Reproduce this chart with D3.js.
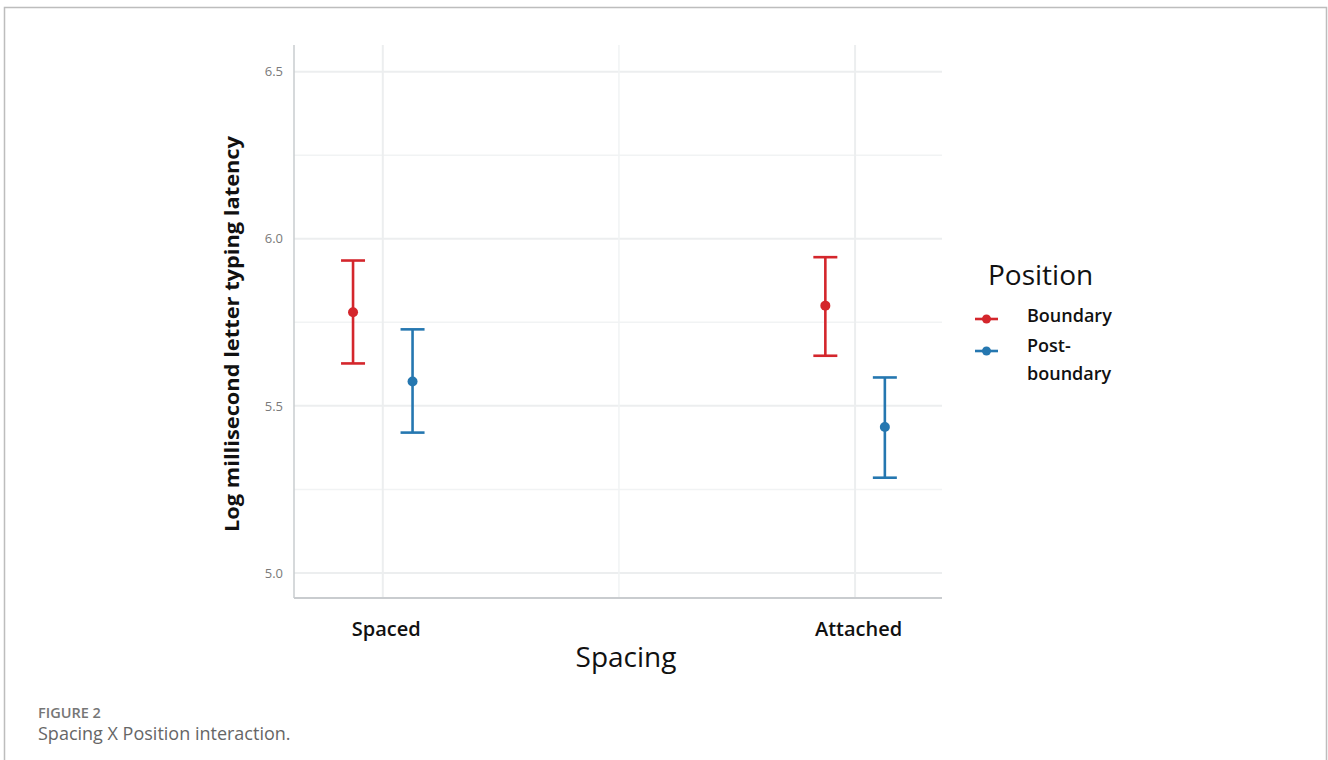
<!DOCTYPE html>
<html>
<head>
<meta charset="utf-8">
<script src="https://cdn.jsdelivr.net/npm/d3@7"></script>
<style>
  body { margin: 0; background: #fff; }
  svg text { font-family: "Open Sans", "Noto Sans", sans-serif; }
</style>
</head>
<body>
<script>
// data
const spacing = ['Spaced', 'Attached']
const positions = ['Boundary', 'Post-boundary']
const meanBoundary = [5.78, 5.80]
const upperBoundary = [5.935, 5.945]
const lowerBoundary = [5.627, 5.65]
const meanPost = [5.573, 5.437]
const upperPost = [5.729, 5.585]
const lowerPost = [5.42, 5.285]
const yTicks = [5.0, 5.5, 6.0, 6.5]
const yMinor = [5.25, 5.75, 6.25]
const colors = ['#d4262c', '#2577b0']

const rows = []
spacing.forEach((s, i) => {
    rows.push({ sp: s, i: i, pos: 0, mean: meanBoundary[i], hi: upperBoundary[i], lo: lowerBoundary[i] })
    rows.push({ sp: s, i: i, pos: 1, mean: meanPost[i], hi: upperPost[i], lo: lowerPost[i] })
})

const W = 1328, H = 760
const svg = d3.select('body').append('svg').attr('width', W).attr('height', H)

// page frame
svg.append('path')
   .attr('d', `M4.5,${H} V7.5 H1326.5 V${H}`)
   .attr('fill', 'none')
   .attr('stroke', '#bdbdbd')
   .attr('stroke-width', 1.5)

const pLeft = 294, pRight = 942, pTop = 45, pBottom = 598

const x = d3.scaleLinear().domain([0.812, 2.184]).range([pLeft, pRight])
const y = d3.scaleLinear().domain([4.925, 6.58]).range([pBottom, pTop])
const dodge = 0.063

const g = svg.append('g')

// grid
g.selectAll('.minor-y').data(yMinor).join('line')
  .attr('x1', pLeft).attr('x2', pRight)
  .attr('y1', d => y(d)).attr('y2', d => y(d))
  .attr('stroke', '#f1f3f4').attr('stroke-width', 1.5)
g.selectAll('.major-y').data(yTicks).join('line')
  .attr('x1', pLeft).attr('x2', pRight)
  .attr('y1', d => y(d)).attr('y2', d => y(d))
  .attr('stroke', '#eceeef').attr('stroke-width', 2)
g.append('line')
  .attr('x1', x(1.5)).attr('x2', x(1.5)).attr('y1', pTop).attr('y2', pBottom)
  .attr('stroke', '#f1f3f4').attr('stroke-width', 1.5)
g.selectAll('.major-x').data([1, 2]).join('line')
  .attr('x1', d => x(d)).attr('x2', d => x(d)).attr('y1', pTop).attr('y2', pBottom)
  .attr('stroke', '#eceeef').attr('stroke-width', 2)

// axes lines
g.append('line').attr('x1', pLeft).attr('x2', pLeft).attr('y1', pTop).attr('y2', pBottom)
  .attr('stroke', '#c9cccf').attr('stroke-width', 1.5)
g.append('line').attr('x1', pLeft).attr('x2', pRight).attr('y1', pBottom).attr('y2', pBottom)
  .attr('stroke', '#c9cccf').attr('stroke-width', 2)

// y tick labels
const yAxis = d3.axisLeft(y).tickValues(yTicks).tickFormat(d3.format('.1f')).tickSize(0).tickPadding(11)
g.append('g').attr('transform', `translate(${pLeft},0)`).call(yAxis)
  .call(a => a.select('.domain').remove())
  .selectAll('text')
  .style('font-family', '"Open Sans", sans-serif')
  .attr('font-size', 13).attr('fill', '#7a7a7a')

// x tick labels
const xAxis = d3.axisBottom(x).tickValues([1, 2]).tickFormat((d, i) => spacing[i]).tickSize(0).tickPadding(24)
g.append('g').attr('transform', `translate(0,${pBottom})`).call(xAxis)
  .call(a => a.select('.domain').remove())
  .selectAll('text')
  .style('font-family', '"Open Sans", sans-serif')
  .attr('font-size', 20).attr('font-weight', 600).attr('fill', '#111')
  .attr('dx', 3)

// error bars
const capW = 12
const px = d => x(d.i + 1 + (d.pos ? dodge : -dodge))
const bars = g.selectAll('.bar').data(rows).join('g')
  .attr('stroke', d => colors[d.pos]).attr('stroke-width', 2.6)
bars.append('line')
  .attr('x1', px).attr('x2', px)
  .attr('y1', d => y(d.hi)).attr('y2', d => y(d.lo))
bars.append('line')
  .attr('x1', d => px(d) - capW).attr('x2', d => px(d) + capW)
  .attr('y1', d => y(d.hi)).attr('y2', d => y(d.hi))
bars.append('line')
  .attr('x1', d => px(d) - capW).attr('x2', d => px(d) + capW)
  .attr('y1', d => y(d.lo)).attr('y2', d => y(d.lo))
g.selectAll('.pt').data(rows).join('circle')
  .attr('cx', px)
  .attr('cy', d => y(d.mean))
  .attr('r', 5)
  .attr('fill', d => colors[d.pos])

// axis titles
svg.append('text')
  .attr('transform', `translate(239,${(136 + 532) / 2}) rotate(-90)`)
  .attr('text-anchor', 'middle')
  .attr('font-size', 20).attr('font-weight', 700).attr('fill', '#111')
  .attr('textLength', 396).attr('lengthAdjust', 'spacingAndGlyphs')
  .text('Log millisecond letter typing latency')
svg.append('text')
  .attr('x', 626).attr('y', 667)
  .attr('text-anchor', 'middle')
  .attr('font-size', 28).attr('fill', '#111')
  .text('Spacing')

// legend
const lg = svg.append('g')
lg.append('text').attr('x', 988).attr('y', 285).attr('font-size', 28).attr('fill', '#111').text('Position')
const legendY = [319, 351]
positions.forEach((p, i) => {
    lg.append('line').attr('x1', 975).attr('x2', 998).attr('y1', legendY[i]).attr('y2', legendY[i])
      .attr('stroke', colors[i]).attr('stroke-width', 2.6)
    lg.append('circle').attr('cx', 986.5).attr('cy', legendY[i]).attr('r', 4.5).attr('fill', colors[i])
})
lg.append('text').attr('x', 1027).attr('y', 322).attr('font-size', 18).attr('font-weight', 600).attr('fill', '#111').text('Boundary')
lg.append('text').attr('x', 1027).attr('y', 352).attr('font-size', 18).attr('font-weight', 600).attr('fill', '#111').text('Post-')
lg.append('text').attr('x', 1027).attr('y', 380).attr('font-size', 18).attr('font-weight', 600).attr('fill', '#111').text('boundary')

// caption
svg.append('text').attr('x', 38).attr('y', 718).attr('font-size', 14.5).attr('font-weight', 600).attr('fill', '#767676').text('FIGURE 2')
svg.append('text').attr('x', 38).attr('y', 740).attr('font-size', 18).attr('fill', '#666').text('Spacing X Position interaction.')
</script>
</body>
</html>
